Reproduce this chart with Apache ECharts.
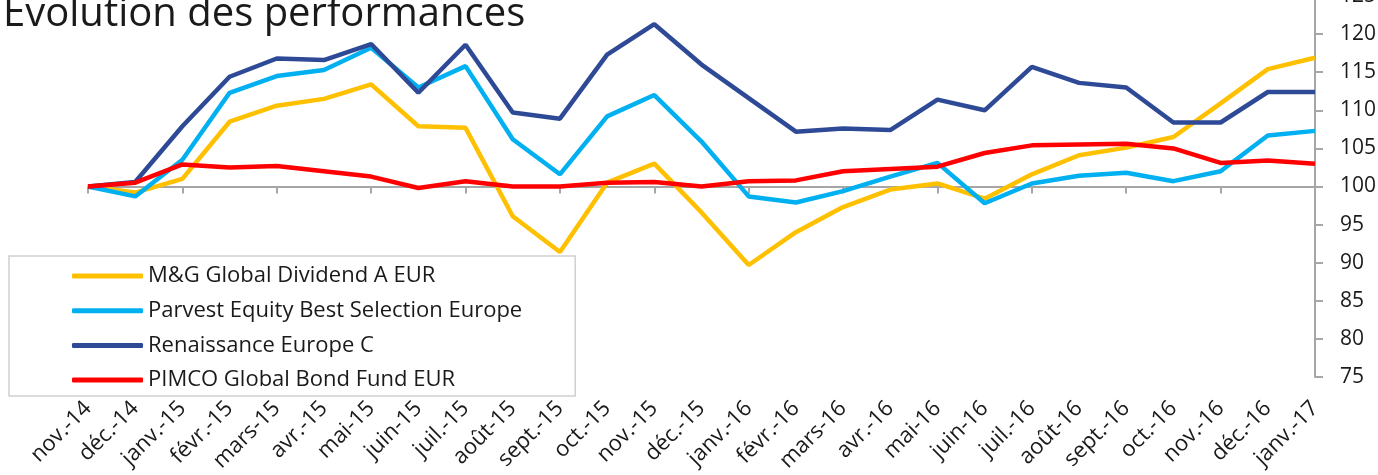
<!DOCTYPE html>
<html>
<head>
<meta charset="utf-8">
<script src="https://cdn.jsdelivr.net/npm/echarts@6/dist/echarts.min.js"></script>
<style>
html,body{margin:0;padding:0;background:#fff;}
#chart{width:1378px;height:475px;}
</style>
</head>
<body>
<div id="chart"></div>
<script>
const categories = ['nov.-14','déc.-14','janv.-15','févr.-15','mars-15','avr.-15','mai-15','juin-15','juil.-15','août-15','sept.-15','oct.-15','nov.-15','déc.-15','janv.-16','févr.-16','mars-16','avr.-16','mai-16','juin-16','juil.-16','août-16','sept.-16','oct.-16','nov.-16','déc.-16','janv.-17'];

const mgGlobalDividend = [100,99.2,101.0,108.5,110.6,111.5,113.4,107.9,107.7,96.1,91.4,100.5,103.0,96.6,89.7,94.0,97.3,99.6,100.4,98.4,101.6,104.1,105.1,106.5,110.9,115.4,116.9];
const parvestEquity = [100,98.7,103.5,112.3,114.5,115.3,118.2,113.0,115.8,106.2,101.6,109.2,112.0,105.9,98.7,97.9,99.4,101.3,103.1,97.8,100.4,101.4,101.8,100.7,102.0,106.7,107.3];
const renaissanceEurope = [100,100.6,107.9,114.4,116.8,116.6,118.7,112.3,118.6,109.7,108.9,117.3,121.3,116.0,111.6,107.2,107.6,107.4,111.4,110.0,115.7,113.6,113.0,108.4,108.4,112.4,112.4];
const pimcoGlobalBond = [100,100.5,102.9,102.5,102.7,102.0,101.3,99.8,100.7,100.0,100.0,100.5,100.6,100.0,100.7,100.8,102.0,102.3,102.6,104.4,105.4,105.5,105.6,105.0,103.1,103.4,103.0];

const seriesNames = ['M&G Global Dividend A EUR','Parvest Equity Best Selection Europe','Renaissance Europe C','PIMCO Global Bond Fund EUR'];
const seriesColors = ['#FFC000','#00B0F0','#2E4A97','#FF0000'];
const seriesValues = [mgGlobalDividend, parvestEquity, renaissanceEurope, pimcoGlobalBond];

const yMin = 75, yMax = 125, yInterval = 5, baseLine = 100;
const title = 'Evolution des performances';

const chart = echarts.init(document.getElementById('chart'));
const H = 475, gridTop = -4, gridBottom = 98;
const plotH = H - gridTop - gridBottom;
const baseOffset = -plotH * (baseLine - yMin) / (yMax - yMin);

const font = '"Open Sans", "Noto Sans", sans-serif';

chart.setOption({
  animation: false,
  backgroundColor: '#ffffff',
  title: {
    text: title,
    left: -2,
    top: -10,
    textStyle: {fontFamily: font, fontSize: 40, fontWeight: 'normal', color: '#1a1a1a'}
  },
  legend: {
    orient: 'vertical',
    left: 9,
    top: 256,
    padding: [9, 53, 5, 63],
    itemGap: 12.7,
    itemWidth: 71,
    itemHeight: 5,
    icon: 'roundRect',
    borderColor: '#d0d0d0',
    borderWidth: 1.5,
    backgroundColor: 'transparent',
    textStyle: {fontFamily: font, fontSize: 22, color: '#1a1a1a', padding: [0,0,0,0]},
    data: seriesNames
  },
  grid: {left: 88, right: 63, top: gridTop, bottom: gridBottom, outerBoundsMode: 'none'},
  xAxis: [
    {
      type: 'category',
      data: categories,
      boundaryGap: false,
      position: 'bottom',
      axisLine: {show: false, onZero: false},
      axisTick: {show: false},
      axisLabel: {rotate: 45, margin: 28, fontFamily: font, fontSize: 22, color: '#1a1a1a'}
    },
    {
      type: 'category',
      data: categories,
      boundaryGap: false,
      position: 'bottom',
      offset: baseOffset,
      axisLine: {show: true, onZero: false, lineStyle: {color: '#a6a6a6', width: 2}},
      axisTick: {show: true, length: 7, lineStyle: {color: '#a6a6a6', width: 2}},
      axisLabel: {show: false}
    }
  ],
  yAxis: {
    type: 'value',
    position: 'right',
    min: yMin,
    max: yMax,
    interval: yInterval,
    splitLine: {show: false},
    axisLine: {show: true, lineStyle: {color: '#a6a6a6', width: 2}},
    axisTick: {show: true, length: 8, lineStyle: {color: '#a6a6a6', width: 2}},
    axisLabel: {margin: 25, fontFamily: font, fontSize: 21, color: '#1a1a1a'}
  },
  series: seriesNames.map((name, i) => ({
    name: name,
    type: 'line',
    xAxisIndex: 0,
    data: seriesValues[i],
    symbol: 'none',
    lineStyle: {color: seriesColors[i], width: 4.5},
    itemStyle: {color: seriesColors[i]},
    z: 2 + i
  }))
});
</script>
</body>
</html>
